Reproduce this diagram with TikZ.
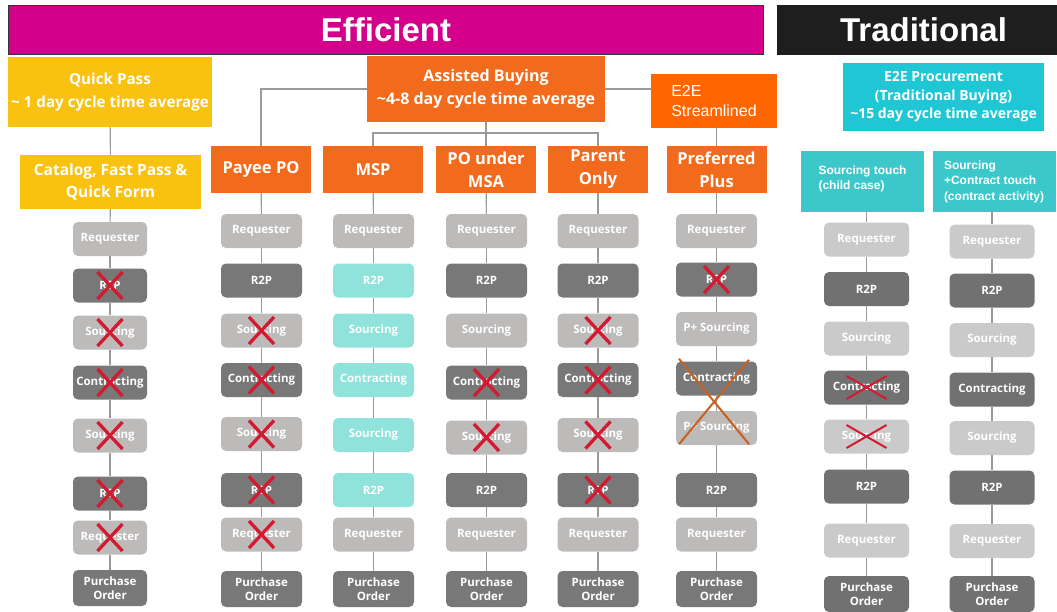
\documentclass[tikz,border=0pt]{standalone}
\usepackage{fontspec}
\setmainfont{Open Sans}
\newfontfamily\arialf{Liberation Sans}
\usetikzlibrary{calc}

\definecolor{magentaE}{HTML}{D4008C}
\definecolor{blackT}{HTML}{1E1E1E}
\definecolor{goldQ}{HTML}{F8C20F}
\definecolor{orangeA}{HTML}{F26A1B}
\definecolor{orangeB}{HTML}{FF6600}
\definecolor{cyanA}{HTML}{1FC6D4}
\definecolor{cyanB}{HTML}{3CC8CB}
\definecolor{greyL}{HTML}{BDBABA}
\definecolor{greyD}{HTML}{787878}
\definecolor{tealL}{HTML}{8FE3DA}
\definecolor{greyLT}{HTML}{CBCACA}
\definecolor{greyDT}{HTML}{717171}
\definecolor{crossR}{HTML}{D41A30}
\definecolor{crossO}{HTML}{C9601E}
\definecolor{connG}{HTML}{9A9A9A}

% one step box of a process column, placed by its centre
\newcommand\proccol[4]{%
  \foreach \yy/\sty/\lab [count=\i] in {#4}
    \node[\sty, minimum width=#3] (#1\i) at (#2,\yy) {\lab};
  \foreach \i/\j in {1/2,2/3,3/4,4/5,5/6,6/7,7/8}
    \draw[conn] (#1\i) -- (#1\j);
}
% crossed-out step
\newcommand\redx[1]{%
  \draw[xr] ($(#1)+(-12.5,-13.5)$) -- ($(#1)+(12.5,13.5)$)
            ($(#1)+(-12.5,13.5)$) -- ($(#1)+(12.5,-13.5)$);}
\newcommand\flatx[1]{%
  \draw[xf] ($(#1)+(-20,-11.5)$) -- ($(#1)+(20,11.5)$)
            ($(#1)+(-20,11.5)$) -- ($(#1)+(20,-11.5)$);}

\begin{document}
\begin{tikzpicture}[x=1pt,y=-1pt,
  pbox/.style={rectangle, rounded corners=5pt, inner sep=0pt, minimum height=34pt,
    text=white, font=\bfseries\fontsize{11.5}{13.5}\selectfont, align=center},
  lt/.style={pbox, fill=greyL},
  dk/.style={pbox, fill=greyD},
  pod/.style={dk, minimum height=36pt},
  tl/.style={pbox, fill=tealL},
  tlt/.style={pbox, fill=greyLT},
  tdk/.style={pbox, fill=greyDT},
  tpo/.style={tdk, minimum height=36pt},
  head/.style={rectangle, inner sep=0pt, text=white, align=center,
    font=\bfseries\fontsize{16}{23}\selectfont},
  kind/.style={head, fill=orangeA, minimum width=100pt, minimum height=47pt,
    font=\bfseries\fontsize{16.5}{23}\selectfont},
  touch/.style={rectangle, inner sep=0pt, fill=cyanB, text=white, align=left,
    minimum width=123pt, minimum height=61pt,
    font=\arialf\bfseries\fontsize{12}{15.5}\selectfont},
  conn/.style={draw=connG, line width=1.1pt},
  xr/.style={draw=crossR, line width=3.3pt},
  xf/.style={draw=crossR, line width=2pt},
  xo/.style={draw=crossO, line width=2pt}]
\useasboundingbox (0,0) rectangle (1057,611);

% banners
\node[draw=black!80, line width=1.6pt, fill=magentaE, minimum width=755pt,
  minimum height=49pt, text=white, font=\arialf\bfseries\fontsize{33}{36}\selectfont]
  (eff) at (386,30) {Efficient};
\node[fill=blackT, minimum width=293pt, minimum height=50pt, text=white,
  font=\arialf\bfseries\fontsize{33}{36}\selectfont]
  (trad) at (923.5,30) {Traditional};

% efficient categories
\node[head, fill=goldQ, minimum width=204pt, minimum height=70pt,
  font=\bfseries\fontsize{15.2}{23}\selectfont] (qp) at (110,92)
  {Quick Pass\\\textasciitilde\ 1 day cycle time average};
\node[head, fill=goldQ, minimum width=181pt, minimum height=54pt,
  font=\bfseries\fontsize{15.5}{22}\selectfont] (cat) at (110.5,182)
  {Catalog, Fast Pass \&\\Quick Form};
\node[head, fill=orangeA, minimum width=238pt, minimum height=66pt] (ab) at (486,89)
  {Assisted Buying\\\textasciitilde 4-8 day cycle time average};
\node[head, fill=orangeB, minimum width=126pt, minimum height=54pt, align=left,
  font=\arialf\fontsize{16}{19.5}\selectfont] (e2e) at (714,101) {E2E\\Streamlined};

\node[kind] (payee) at (261,169.5) {Payee PO};
\node[kind] (msp) at (373,169.5) {MSP};
\node[kind] (msa) at (486,169.5) {PO under\\MSA};
\node[kind] (par) at (598,169.5) {Parent\\Only};
\node[kind] (pref) at (716.5,169.5) {Preferred\\Plus};

% traditional categories
\node[head, fill=cyanA, minimum width=201pt, minimum height=68pt,
  font=\bfseries\fontsize{14}{18.5}\selectfont] (proc) at (943.5,97)
  {E2E Procurement\\(Traditional Buying)\\\textasciitilde 15 day cycle time average};
\node[touch, text depth=8pt] (tc1) at (862.5,181.5) {Sourcing touch\\(child case)};
\node[touch] (tc2) at (994,181.5) {Sourcing\\+Contract touch\\(contract activity)};

% hierarchy links
\coordinate (bus) at (486,133);
\draw[conn] (qp) -- (cat);
\draw[conn] (ab.west) -| (payee.north);
\draw[conn] (ab.east) -- (ab.east -| e2e.west);
\draw[conn] (ab.south) -- (bus) -- (msa.north);
\draw[conn] (msp.north) |- (bus) -| (par.north);
\draw[conn] (e2e.south -| pref.north) -- (pref.north);

% process columns
\proccol{a}{110}{74pt}{239/lt/Requester, 285.5/dk/R2P, 332.5/lt/Sourcing,
  382.5/dk/Contracting, 435.5/lt/Sourcing, 493.5/dk/R2P, 537.5/lt/Requester,
  588/pod/{Purchase\\Order}}
\proccol{b}{261.5}{81pt}{231/lt/Requester, 280.5/dk/R2P, 330.5/lt/Sourcing,
  380/dk/Contracting, 434/lt/Sourcing, 490/dk/R2P, 534.5/lt/Requester,
  589/pod/{Purchase\\Order}}
\proccol{c}{373.5}{81pt}{231/lt/Requester, 280.5/tl/R2P, 330.5/tl/Sourcing,
  380/tl/Contracting, 435/tl/Sourcing, 490/tl/R2P, 534.5/lt/Requester,
  589/pod/{Purchase\\Order}}
\proccol{d}{486.5}{81pt}{231/lt/Requester, 280.5/dk/R2P, 330.5/lt/Sourcing,
  382.5/dk/Contracting, 437.5/lt/Sourcing, 490/dk/R2P, 534.5/lt/Requester,
  589/pod/{Purchase\\Order}}
\proccol{e}{598}{81pt}{231/lt/Requester, 280.5/dk/R2P, 330.5/lt/Sourcing,
  380/dk/Contracting, 435/lt/Sourcing, 490/dk/R2P, 534.5/lt/Requester,
  589/pod/{Purchase\\Order}}
\proccol{f}{716.5}{81pt}{231/lt/Requester, 279.5/dk/R2P, 329/lt/P+ Sourcing,
  378.5/dk/Contracting, 428/lt/P+ Sourcing, 490/dk/R2P, 534.5/lt/Requester,
  589/pod/{Purchase\\Order}}
\proccol{g}{866.5}{85pt}{239.5/tlt/Requester, 289/tdk/R2P, 338.5/tlt/Sourcing,
  387.5/tdk/Contracting, 436.5/tlt/Sourcing, 486.5/tdk/R2P, 540.5/tlt/Requester,
  594/tpo/{Purchase\\Order}}
\proccol{h}{992}{85pt}{241.5/tlt/Requester, 290.5/tdk/R2P, 340/tlt/Sourcing,
  389.5/tdk/Contracting, 438/tlt/Sourcing, 487.5/tdk/R2P, 541/tlt/Requester,
  594/tpo/{Purchase\\Order}}

\draw[conn] (cat) -- (a1);
\draw[conn] (payee) -- (b1);
\draw[conn] (msp) -- (c1);
\draw[conn] (msa) -- (d1);
\draw[conn] (par) -- (e1);
\draw[conn] (pref) -- (f1);
\draw[conn] (tc1.south -| g1.north) -- (g1.north);
\draw[conn] (tc2.south -| h1.north) -- (h1.north);

% removed steps
\foreach \n in {a2,a3,a4,a5,a6,a7, b3,b4,b5,b6,b7, d4,d5, e3,e4,e5,e6, f2}
  \redx{\n};
\flatx{g4}
\flatx{g5}
\draw[xo] ($(f4.north)+(-37.5,-2.5)$) -- ($(f5.south)+(32.5,-1)$)
          ($(f4.north)+(32.5,-1.5)$) -- ($(f5.south)+(-37.5,-1)$);
\end{tikzpicture}
\end{document}
